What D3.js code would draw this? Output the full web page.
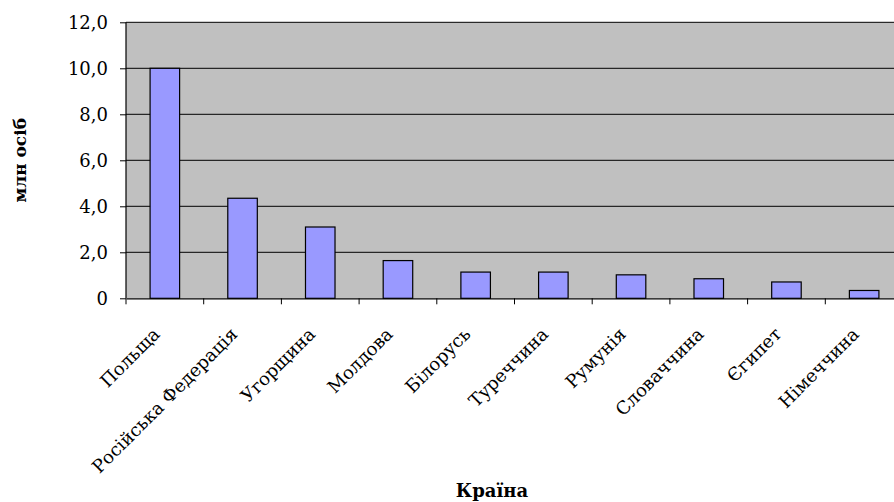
<!DOCTYPE html>
<html>
<head>
<meta charset="utf-8">
<script src="https://cdn.jsdelivr.net/npm/d3@7.9.0/dist/d3.min.js"></script>
<style>
  html, body { margin: 0; padding: 0; background: #fff; overflow: hidden; }
</style>
</head>
<body>
<svg id="chart" width="894" height="502"></svg>
<script>
// ---------- DATA ----------
const countries = ["Польща", "Російська Федерація", "Угорщина", "Молдова", "Білорусь",
                   "Туреччина", "Румунія", "Словаччина", "Єгипет", "Німеччина"];
const values = [10.0, 4.35, 3.1, 1.64, 1.14, 1.14, 1.02, 0.85, 0.71, 0.34];
const yTicks = [0, 2, 4, 6, 8, 10, 12];

// ---------- LAYOUT ----------
const svg = d3.select("#chart");
const plotLeft = 126, plotTop = 22.3, plotBottom = 298.3;
const plotW = 777;
const serif = "DejaVu Serif";

const x = d3.scaleBand().domain(countries).range([plotLeft, plotLeft + plotW]).paddingInner(0.62).paddingOuter(0.31);
const xTick = d3.scaleBand().domain(countries).range([plotLeft, plotLeft + plotW]);
const y = d3.scaleLinear().domain([0, 12]).range([plotBottom, plotTop]);

// PLOT BACKGROUND
svg.append("rect")
    .attr("x", plotLeft).attr("y", plotTop)
    .attr("width", plotW).attr("height", plotBottom - plotTop)
    .attr("fill", "#c0c0c0");

// GRIDLINES
svg.selectAll(".grid")
    .data(yTicks.filter(d => d > 0))
    .join("line")
    .attr("class", "grid")
    .attr("x1", plotLeft).attr("x2", plotLeft + plotW)
    .attr("y1", d => y(d)).attr("y2", d => y(d))
    .attr("stroke", "#000").attr("stroke-width", 1);

// BARS
svg.selectAll(".bar")
    .data(countries)
    .join("rect")
    .attr("class", "bar")
    .attr("x", d => x(d))
    .attr("y", (d, i) => y(values[i]))
    .attr("width", x.bandwidth())
    .attr("height", (d, i) => plotBottom - y(values[i]))
    .attr("fill", "#9999ff")
    .attr("stroke", "#000").attr("stroke-width", 1.2);

// Y AXIS
const fmt = d => d === 0 ? "0" : d3.format(".1f")(d).replace(".", ",");
const yAxis = svg.append("g")
    .attr("transform", `translate(${plotLeft},0)`)
    .call(d3.axisLeft(y).tickValues(yTicks).tickFormat(fmt).tickSize(6).tickPadding(12));
yAxis.attr("font-family", serif).attr("font-size", 18);
yAxis.select(".domain").attr("stroke", "#000").attr("stroke-width", 1.2).attr("d", `M0,${plotTop}V${plotBottom}`);
yAxis.selectAll("text").attr("fill", "#000");

// X AXIS
const xAxis = svg.append("g")
    .attr("transform", `translate(0,${plotBottom})`)
    .call(d3.axisBottom(xTick).tickSize(0).tickFormat(""));
xAxis.select(".domain").attr("stroke", "#000").attr("stroke-width", 1.2);
svg.selectAll(".xtick")
    .data(countries)
    .join("line")
    .attr("class", "xtick")
    .attr("x1", d => xTick(d)).attr("x2", d => xTick(d))
    .attr("y1", plotBottom).attr("y2", plotBottom + 6)
    .attr("stroke", "#000");

// CATEGORY LABELS
svg.selectAll(".xlab")
    .data(countries)
    .join("text")
    .attr("class", "xlab")
    .attr("transform", d => `translate(${xTick(d) + xTick.bandwidth() / 2 - 4},${plotBottom + 37}) rotate(-45)`)
    .attr("text-anchor", "end")
    .attr("font-family", serif)
    .attr("font-size", 18)
    .attr("fill", "#000")
    .text(d => d);

// AXIS TITLES
svg.append("text")
    .attr("transform", `translate(26,${(plotTop + plotBottom) / 2}) rotate(-90)`)
    .attr("text-anchor", "middle")
    .attr("font-family", serif)
    .attr("font-size", 17).attr("font-weight", "bold")
    .text("млн осіб");

svg.append("text")
    .attr("x", 492).attr("y", 497)
    .attr("text-anchor", "middle")
    .attr("font-family", serif)
    .attr("font-size", 18).attr("font-weight", "bold")
    .text("Країна");
</script>
</body>
</html>
